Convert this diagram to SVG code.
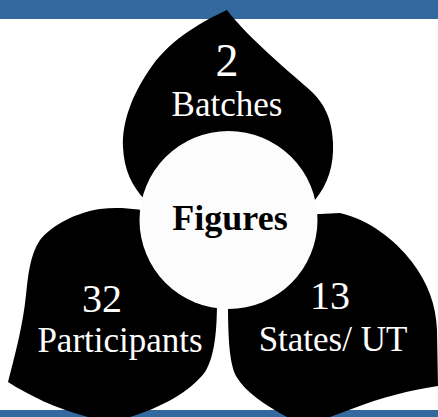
<svg xmlns="http://www.w3.org/2000/svg" width="438" height="417" viewBox="0 0 438 417">
<style>
.bar{fill:#3469a0}
.petal{fill:#000}
.lbl{fill:#fff;font-family:"Liberation Serif","Times New Roman",serif;text-anchor:middle}
.num{font-size:40px}
.txt{font-size:35px}
</style>
<rect id="topbar" class="bar" x="0" y="0" width="438" height="19"/>
<rect id="bottombar" class="bar" x="0" y="410" width="438" height="7"/>
<g id="petal-top">
<path class="petal" d="M227,10 C205,20 172,38 152,66 C132,94 122,122 123,147 C124,170 132,186 145,200 L315,200 C328,184 334,165 333,143 C332,118 324,104 312,92 C290,72 250,40 227,10 Z"/>
<text class="lbl" x="227" y="76" font-size="46">2</text>
<text class="lbl txt" x="227" y="116">Batches</text>
</g>
<g id="petal-left">
<path class="petal" d="M160,215 C140,208 118,207 100,209 C75,213 52,225 40,240 C30,255 28,275 26,295 C23,325 15,355 8,382 C30,396 55,408 88,417 L130,417 C160,408 190,392 205,372 C215,356 217,330 217,300 Z"/>
<text class="lbl num" x="102" y="312" font-size="38">32</text>
<text class="lbl txt" x="120" y="352">Participants</text>
</g>
<g id="petal-right">
<path class="petal" d="M300,215 L340,213 C370,220 395,240 412,262 C428,283 436,305 437,330 L438,386 C410,390 380,398 357,407 L330,417 L287,417 C265,405 245,392 236,376 C229,362 228,335 228,300 Z"/>
<text class="lbl num" x="330" y="309" font-size="38">13</text>
<text class="lbl txt" x="333" y="351">States/ UT</text>
</g>
<g id="center">
<circle cx="228.5" cy="220" r="89" fill="#fcfcfc"/>
<text x="230" y="230" font-family="Liberation Serif,'Times New Roman',serif" font-weight="bold" font-size="36" text-anchor="middle" fill="#000">Figures</text>
</g>
<g id="connectors"/>
</svg>
